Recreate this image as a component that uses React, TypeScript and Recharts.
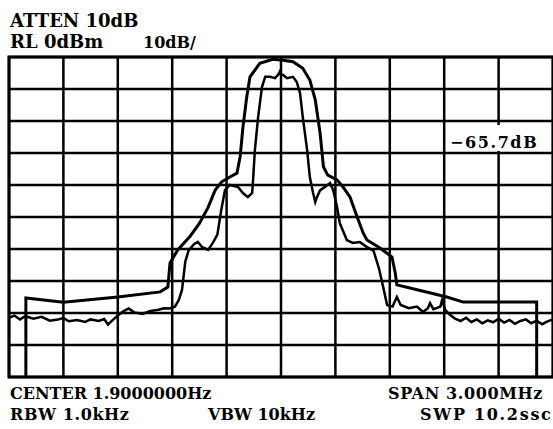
import { CartesianGrid, Line, LineChart, ReferenceArea, XAxis, YAxis } from "recharts";

// x in screen divisions (0..10, 0.3 MHz/div), y in dBm (RL 0 dBm, 10 dB/div)
const holdX = [0.31, 0.31, 1.0, 2.0, 2.78, 2.92, 2.96, 3.1, 3.33, 3.5, 3.66, 3.79, 3.91, 4.06, 4.19, 4.25, 4.3, 4.37, 4.43, 4.61, 4.85, 5.04, 5.22, 5.4, 5.53, 5.63, 5.72, 5.78, 5.86, 6.03, 6.14, 6.27, 6.4, 6.51, 6.58, 6.82, 7.04, 7.1, 7.13, 7.37, 8.05, 8.35, 9.7, 9.7];
const holdY = [-100, -75.3, -76.6, -75.0, -73.4, -71.9, -64.4, -60.3, -56.0, -52.0, -47.0, -41.6, -39.0, -37.5, -36.3, -31.0, -22.0, -12.5, -6.2, -2.0, -0.7, -1.0, -1.5, -3.5, -7.2, -13.4, -24.0, -34.3, -36.9, -38.4, -40.6, -43.8, -50.0, -55.0, -57.2, -59.7, -62.5, -67.5, -71.2, -72.2, -75.0, -76.6, -76.6, -100];

const traceX = [0.0, 0.1, 0.2, 0.3, 0.45, 0.6, 0.75, 0.9, 1.0, 1.1, 1.25, 1.4, 1.5, 1.65, 1.75, 1.82, 1.9, 2.0, 2.1, 2.2, 2.3, 2.45, 2.6, 2.75, 2.85, 2.95, 3.05, 3.12, 3.18, 3.24, 3.3, 3.4, 3.47, 3.55, 3.66, 3.75, 3.83, 3.9, 3.97, 4.06, 4.21, 4.3, 4.39, 4.47, 4.49, 4.52, 4.58, 4.65, 4.71, 4.8, 4.89, 4.95, 4.98, 5.0, 5.04, 5.11, 5.22, 5.29, 5.35, 5.4, 5.48, 5.53, 5.59, 5.63, 5.66, 5.72, 5.81, 5.9, 5.96, 6.03, 6.08, 6.21, 6.32, 6.45, 6.58, 6.7, 6.8, 6.88, 6.95, 7.05, 7.13, 7.2, 7.35, 7.5, 7.61, 7.7, 7.74, 7.8, 7.87, 7.93, 7.96, 8.02, 8.1, 8.2, 8.3, 8.4, 8.5, 8.6, 8.7, 8.8, 8.9, 9.0, 9.1, 9.2, 9.3, 9.4, 9.5, 9.6, 9.7, 9.8, 9.9, 10.0];
const traceY = [-81.5, -80.8, -82.0, -81.0, -81.8, -81.2, -82.4, -82.0, -81.6, -82.6, -82.2, -82.8, -82.0, -82.5, -81.9, -83.6, -82.3, -80.8, -79.5, -78.6, -79.8, -80.3, -79.4, -79.0, -78.5, -78.6, -78.0, -76.0, -72.8, -64.0, -60.5, -58.5, -57.8, -59.4, -60.3, -58.0, -55.5, -48.0, -41.6, -40.0, -40.6, -42.5, -43.8, -42.5, -37.5, -29.0, -18.7, -9.4, -6.2, -6.2, -6.6, -5.5, -4.5, -5.5, -5.6, -6.6, -6.2, -7.8, -11.3, -18.7, -29.0, -37.5, -42.5, -45.3, -43.8, -41.6, -40.6, -39.4, -41.6, -46.9, -51.9, -57.2, -58.1, -57.8, -59.4, -60.5, -66.0, -72.0, -77.5, -78.0, -75.0, -77.5, -78.5, -78.0, -79.7, -78.5, -76.9, -78.8, -78.4, -78.0, -76.0, -79.0, -80.5, -81.8, -82.5, -81.5, -82.8, -82.0, -83.2, -82.3, -82.9, -81.8, -83.0, -82.2, -83.4, -82.5, -82.0, -83.2, -82.4, -83.5, -82.6, -82.0];

const divTicks = [0, 1, 2, 3, 4, 5, 6, 7, 8, 9, 10];
const dbTicks = [-100, -90, -80, -70, -60, -50, -40, -30, -20, -10, 0];

const holdData = holdX.map((x, i) => ({ x, y: holdY[i] }));
const traceData = traceX.map((x, i) => ({ x, y: traceY[i] }));

const txt = { fontFamily: "'DejaVu Serif', serif", fontWeight: 700, fill: "#000" };

export default function App() {
  return (
    <div style={{ position: "absolute", left: 0, top: 0, width: 553, height: 429, background: "#fff" }}>
      <LineChart width={553} height={429} margin={{ top: 57, left: 9, right: 0, bottom: 52 }}>
        <CartesianGrid stroke="#000" strokeWidth={2.5} strokeOpacity={1} />
        <XAxis type="number" dataKey="x" domain={[0, 10]} ticks={divTicks} hide />
        <YAxis type="number" dataKey="y" domain={[-100, 0]} ticks={dbTicks} hide />
        <ReferenceArea x1={0} x2={10} y1={-100} y2={0} fill="none" stroke="#000" strokeWidth={3} ifOverflow="visible" />
        <Line data={holdData} dataKey="y" type="linear" stroke="#000" strokeWidth={3} dot={false} isAnimationActive={false} />
        <Line data={traceData} dataKey="y" type="linear" stroke="#000" strokeWidth={2.5} dot={false} isAnimationActive={false} />
      </LineChart>
      <svg width={553} height={429} style={{ position: "absolute", left: 0, top: 0 }}>
        <text x={10} y={27} fontSize={18} {...txt}>ATTEN 10dB</text>
        <text x={10} y={48} fontSize={18} {...txt}>RL 0dBm</text>
        <text x={143} y={48} fontSize={16} {...txt}>10dB/</text>
        <rect x={448} y={125} width={102} height={26} fill="#fff" />
        <text x={450} y={148} fontSize={16} letterSpacing={1.6} {...txt}>−65.7dB</text>
        <text x={10} y={399} fontSize={16} {...txt}>CENTER 1.9000000Hz</text>
        <text x={10} y={420} fontSize={16} letterSpacing={0.6} {...txt}>RBW 1.0kHz</text>
        <text x={208} y={420} fontSize={16} {...txt}>VBW 10kHz</text>
        <text x={388} y={399} fontSize={16} letterSpacing={0.6} {...txt}>SPAN 3.000MHz</text>
        <text x={420} y={420} fontSize={16} letterSpacing={1.7} {...txt}>SWP 10.2ssc</text>
      </svg>
    </div>
  );
}
